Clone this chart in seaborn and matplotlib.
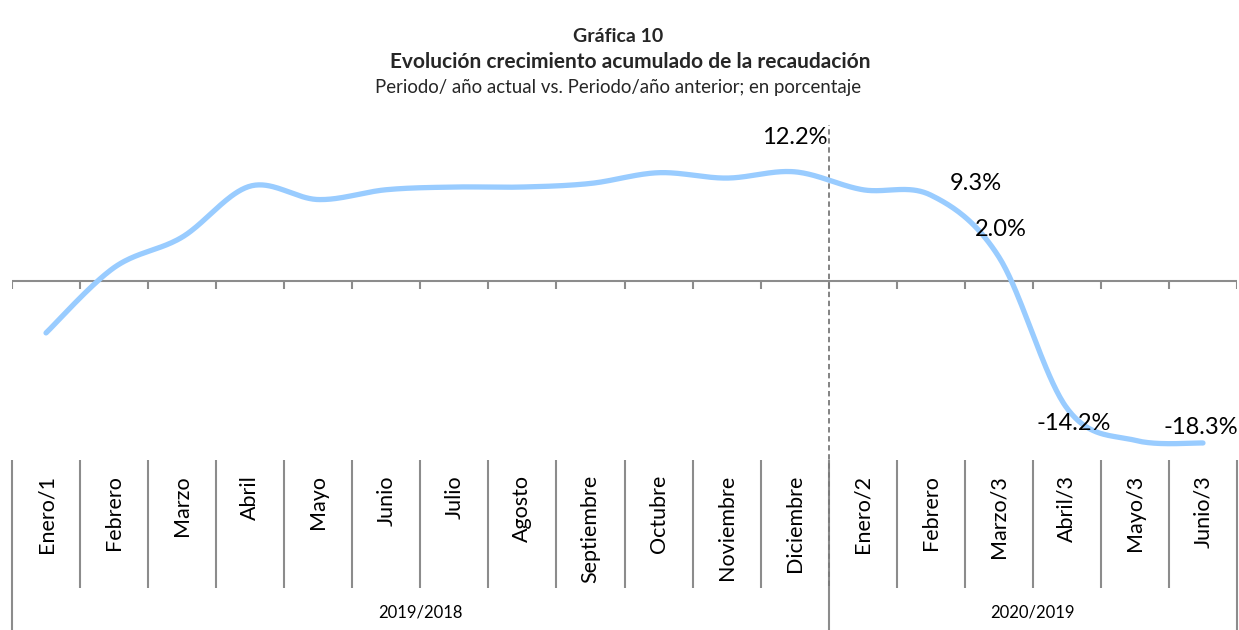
import numpy as np
import pandas as pd
import matplotlib
matplotlib.use("Agg")
import matplotlib.pyplot as plt
import seaborn as sns

# Datos (porcentaje)
categorias = ["Enero/1", "Febrero", "Marzo", "Abril", "Mayo", "Junio", "Julio",
              "Agosto", "Septiembre", "Octubre", "Noviembre", "Diciembre",
              "Enero/2", "Febrero", "Marzo/3", "Abril/3", "Mayo/3", "Junio/3"]
valores = [-5.8, 1.5, 4.9, 10.6, 9.1, 10.2, 10.5, 10.5, 10.9, 12.1, 11.5, 12.2,
           10.2, 9.6, 2.7, -14.2, -17.8, -18.1]

periodos = ["2019/2018", "2020/2019"]
meses_por_periodo = [12, 6]

# etiquetas de datos: indice de categoria y texto
etiquetas_idx = [11, 13, 14, 15, 17]
etiquetas_txt = ["12.2%", "9.3%", "2.0%", "-14.2%", "-18.3%"]
# desplazamiento de cada etiqueta en pixeles (dx, dy hacia arriba)
etiquetas_off = [(0, 34), (45, 12), (2, 27), (7, -15), (-2, 15)]


def suavizar(y, n=40):
    # curva suavizada tipo Excel (Bezier con tangentes Catmull-Rom)
    x = np.arange(len(y), dtype=float)
    p = np.column_stack([x, np.asarray(y, dtype=float)])
    p_ext = np.vstack([p[0], p, p[-1]])
    pts = []
    t = np.linspace(0, 1, n)[:, None]
    for i in range(len(p) - 1):
        p0, p1, p2, p3 = p_ext[i], p_ext[i + 1], p_ext[i + 2], p_ext[i + 3]
        b1 = p1 + (p2 - p0) / 6
        b2 = p2 - (p3 - p1) / 6
        seg = ((1 - t) ** 3) * p1 + 3 * ((1 - t) ** 2) * t * b1 \
            + 3 * (1 - t) * t ** 2 * b2 + t ** 3 * p2
        pts.append(seg if i == 0 else seg[1:])
    pts = np.vstack(pts)
    return pts[:, 0], pts[:, 1]


xs, ys = suavizar(valores)
df = pd.DataFrame({"pos": xs, "valor": ys})

sns.set_theme(style="white")
plt.rcParams["font.family"] = ["Lato", "DejaVu Sans"]

W, H = 1239, 630
fig = plt.figure(figsize=(W / 100, H / 100), dpi=100)
# area de trazado: x 12..1237 px, y 125..458 px (desde arriba)
ax = fig.add_axes([12 / W, (H - 458) / H, 1225 / W, 333 / H])

gris = "#8c8c8c"
px = 8.95  # pixeles por punto porcentual
ax.set_xlim(-0.5, len(categorias) - 0.5)
ax.set_ylim(-(458 - 281) / px, (281 - 125) / px)

# eje horizontal en cero con marcas hacia abajo
ax.axhline(0, color=gris, lw=1.5, zorder=1)
ax.vlines(np.arange(len(categorias) + 1) - 0.5, -8 / px, 0, colors=gris, lw=1.5, zorder=1)

sns.lineplot(data=df, x="pos", y="valor", ax=ax, sort=False, estimator=None,
             color="#99CCFF", linewidth=3.8, solid_capstyle="round", zorder=3)

trans = ax.get_xaxis_transform()
alto = 333.0

# separadores de categorias
limites = np.cumsum([0] + meses_por_periodo) - 0.5
for b in np.arange(len(categorias) + 1) - 0.5:
    fondo = 630 if b in limites else 588
    ax.vlines(b, -(fondo - 458) / alto, -2 / alto, transform=trans, colors=gris,
              lw=1.5, clip_on=False)

# linea punteada de cambio de periodo
ax.vlines(limites[1], -(586 - 458) / alto, 1, transform=trans, colors="#7a7a7a",
          lw=1.3, linestyles=(0, (3, 2)), clip_on=False, zorder=2)

for i, cat in enumerate(categorias):
    ax.text(i, -17 / alto, cat, transform=trans, rotation=90, ha="center", va="top",
            fontsize=15.5, color="#000000")

for k, per in enumerate(periodos):
    centro = (limites[k] + limites[k + 1]) / 2
    ax.text(centro, -(612 - 458) / alto, per, transform=trans, ha="center", va="center",
            fontsize=12, color="#000000")

for idx, txt, (dx, dy) in zip(etiquetas_idx, etiquetas_txt, etiquetas_off):
    ax.annotate(txt, (idx, valores[idx]), xytext=(dx * 0.72, dy * 0.72),
                textcoords="offset points", ha="center", va="center",
                fontsize=17, color="#000000")

ax.set_xticks([])
ax.set_yticks([])
ax.set_xlabel("")
ax.set_ylabel("")
for s in ax.spines.values():
    s.set_visible(False)

fig.text(618 / W, 1 - 37 / H, "Gráfica 10", ha="center", va="center",
         fontsize=14, fontweight="bold")
fig.text(630 / W, 1 - 62 / H, "Evolución crecimiento acumulado de la recaudación",
         ha="center", va="center", fontsize=15, fontweight="bold")
fig.text(618 / W, 1 - 88 / H, "Periodo/ año actual vs. Periodo/año anterior; en porcentaje",
         ha="center", va="center", fontsize=13.4)

fig.savefig("out.png", dpi=100, facecolor="white")
